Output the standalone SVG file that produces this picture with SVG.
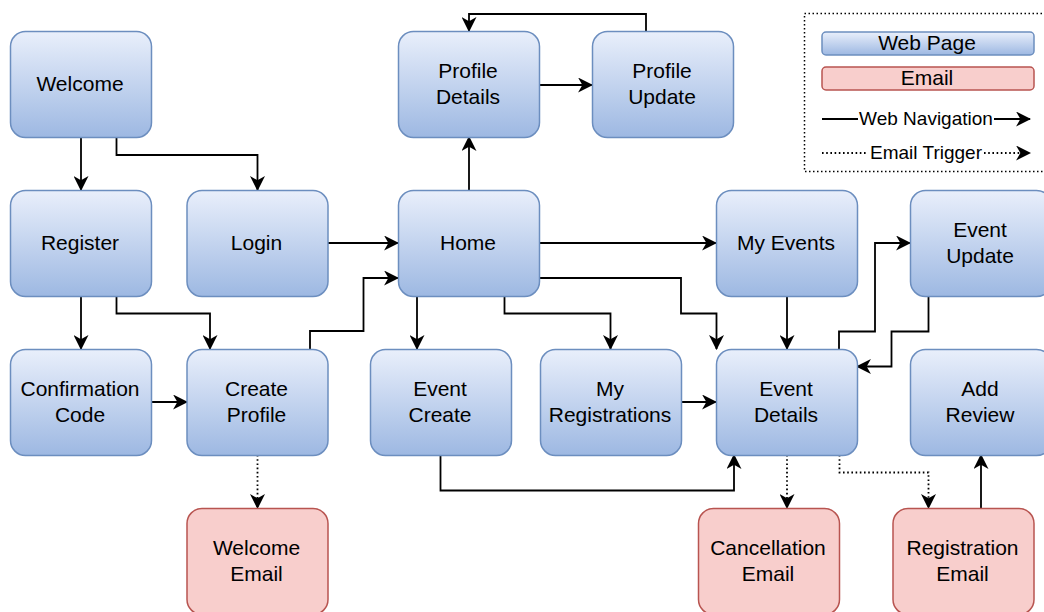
<svg xmlns="http://www.w3.org/2000/svg" width="1044" height="612" viewBox="0 0 1044 612">
<defs>
<linearGradient id="gb" x1="0" y1="0" x2="0" y2="1">
<stop offset="0" stop-color="#e9effb"/>
<stop offset="1" stop-color="#9db8e2"/>
</linearGradient>
<marker id="ah" viewBox="0 0 14 14" refX="13" refY="7" markerWidth="15" markerHeight="15" markerUnits="userSpaceOnUse" orient="auto">
<path d="M0,0 L14,7 L0,14 L4,7 z" fill="#000"/>
</marker>
<style>
.page{fill:url(#gb);stroke:#6c8ebf;stroke-width:1.5}
.mail{fill:#f8cecc;stroke:#b85450;stroke-width:1.5}
.t{font-family:"Liberation Sans",Arial,sans-serif;font-size:21px;fill:#000;text-anchor:middle}
.lt{font-family:"Liberation Sans",Arial,sans-serif;font-size:19px;fill:#000;text-anchor:middle}
.e{fill:none;stroke:#000;stroke-width:1.8;marker-end:url(#ah)}
.d{fill:none;stroke:#000;stroke-width:1.8;stroke-dasharray:1.6 2.6;marker-end:url(#ah)}
</style>
</defs>
<rect width="1044" height="612" fill="#fff"/>

<g id="connectors">
<path class="e" d="M81,137 V190"/>
<path class="e" d="M116.5,137 V155 H257.5 V190"/>
<path class="e" d="M81,296 V349"/>
<path class="e" d="M116.5,296 V313.5 H210 V349"/>
<path class="e" d="M151.5,402 H187"/>
<path class="e" d="M310,349 V331 H363.5 V278 H398"/>
<path class="e" d="M328,243 H398"/>
<path class="e" d="M469,190 V137"/>
<path class="e" d="M540,85 H592"/>
<path class="e" d="M646,31 V14 H469 V31"/>
<path class="e" d="M540,243 H716"/>
<path class="e" d="M540,278 H681 V313.5 H716.5 V349"/>
<path class="e" d="M417,296 V349"/>
<path class="e" d="M504.5,296 V313.5 H610.5 V349"/>
<path class="e" d="M681.5,402 H716"/>
<path class="e" d="M787,296 V349"/>
<path class="e" d="M440.5,455 V490.5 H734 V455"/>
<path class="e" d="M839,349 V331.5 H875 V243 H910"/>
<path class="e" d="M928.5,296 V331.5 H891.5 V366.5 H857"/>
<path class="d" d="M257.5,455 V508"/>
<path class="d" d="M787,455 V508"/>
<path class="d" d="M839.5,455 V472.5 H928.5 V508"/>
<path class="e" d="M981,508 V455"/>
</g>

<g id="welcome"><rect class="page" x="10.5" y="31.5" width="141" height="106" rx="15"/><text class="t" x="80" y="91">Welcome</text></g>
<g id="register"><rect class="page" x="10.5" y="190.5" width="141" height="106" rx="15"/><text class="t" x="80" y="250">Register</text></g>
<g id="login"><rect class="page" x="187" y="190.5" width="141" height="106" rx="15"/><text class="t" x="256.5" y="250">Login</text></g>
<g id="confirmation-code"><rect class="page" x="10.5" y="349.5" width="141" height="106" rx="15"/><text class="t" x="80" y="396">Confirmation</text><text class="t" x="80" y="422">Code</text></g>
<g id="create-profile"><rect class="page" x="187" y="349.5" width="141" height="106" rx="15"/><text class="t" x="256.5" y="396">Create</text><text class="t" x="256.5" y="422">Profile</text></g>
<g id="welcome-email"><rect class="mail" x="187" y="508.5" width="141" height="106" rx="15"/><text class="t" x="256.5" y="555">Welcome</text><text class="t" x="256.5" y="581">Email</text></g>
<g id="profile-details"><rect class="page" x="398.5" y="31.5" width="141" height="106" rx="15"/><text class="t" x="468" y="78">Profile</text><text class="t" x="468" y="104">Details</text></g>
<g id="profile-update"><rect class="page" x="592.5" y="31.5" width="141" height="106" rx="15"/><text class="t" x="662" y="78">Profile</text><text class="t" x="662" y="104">Update</text></g>
<g id="home"><rect class="page" x="398.5" y="190.5" width="141" height="106" rx="15"/><text class="t" x="468" y="250">Home</text></g>
<g id="event-create"><rect class="page" x="370.5" y="349.5" width="141" height="106" rx="15"/><text class="t" x="440" y="396">Event</text><text class="t" x="440" y="422">Create</text></g>
<g id="my-registrations"><rect class="page" x="540.5" y="349.5" width="141" height="106" rx="15"/><text class="t" x="610" y="396">My</text><text class="t" x="610" y="422">Registrations</text></g>
<g id="my-events"><rect class="page" x="716.5" y="190.5" width="141" height="106" rx="15"/><text class="t" x="786" y="250">My Events</text></g>
<g id="event-details"><rect class="page" x="716.5" y="349.5" width="141" height="106" rx="15"/><text class="t" x="786" y="396">Event</text><text class="t" x="786" y="422">Details</text></g>
<g id="event-update"><rect class="page" x="910.5" y="190.5" width="141" height="106" rx="15"/><text class="t" x="980" y="237">Event</text><text class="t" x="980" y="263">Update</text></g>
<g id="add-review"><rect class="page" x="910.5" y="349.5" width="141" height="106" rx="15"/><text class="t" x="980" y="396">Add</text><text class="t" x="980" y="422">Review</text></g>
<g id="cancellation-email"><rect class="mail" x="698.5" y="508.5" width="141" height="106" rx="15"/><text class="t" x="768" y="555">Cancellation</text><text class="t" x="768" y="581">Email</text></g>
<g id="registration-email"><rect class="mail" x="893" y="508.5" width="141" height="106" rx="15"/><text class="t" x="962.5" y="555">Registration</text><text class="t" x="962.5" y="581">Email</text></g>

<g id="legend">
<rect x="804.5" y="13.5" width="250" height="158" fill="none" stroke="#000" stroke-width="1.5" stroke-dasharray="1.5 2.5"/>
<rect class="page" x="822" y="32" width="212" height="23" rx="4"/>
<text class="t" x="927" y="50">Web Page</text>
<rect class="mail" x="822" y="67" width="212" height="23" rx="4"/>
<text class="t" x="927" y="85">Email</text>
<path d="M822,119 H858" fill="none" stroke="#000" stroke-width="1.8"/>
<text class="lt" x="926" y="125">Web Navigation</text>
<path class="e" d="M994,119 H1030"/>
<path d="M822,153 H868" fill="none" stroke="#000" stroke-width="1.8" stroke-dasharray="1.6 2.6"/>
<text class="lt" x="926" y="159">Email Trigger</text>
<path class="d" d="M984,153 H1030"/>
</g>
</svg>
